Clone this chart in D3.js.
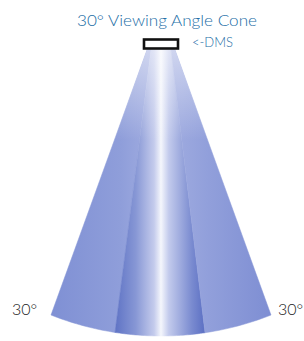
<!DOCTYPE html>
<html>
<head>
<meta charset="utf-8">
<script src="https://cdn.jsdelivr.net/npm/d3@7"></script>
<style>
  html, body { margin: 0; padding: 0; background: #fff; }
  svg { display: block; }
</style>
</head>
<body>
<svg id="chart" width="304" height="341"></svg>
<script>
  const titleText = "30° Viewing Angle Cone";
  const sensorLabel = "<-DMS";
  const sideLabels = ["30°", "30°"];
  // band edges across the cone, in degrees
  const bandEdges = [-30, -12, 0, 12, 30];
  const bandNames = ["outerLeft", "innerLeft", "innerRight", "outerRight"];

  const width = 304, height = 341;
  const svg = d3.select("#chart");
  const defs = svg.append("defs");

  const cx = 161, topY = 50;
  const arcR = 299, arcCy = 37;

  // where a band edge sits at the top and at the bottom of the cone
  const xTop = d3.scaleLinear().domain(bandEdges).range([147, 151, 161, 171, 175]);
  const xBottom = d3.scaleLinear().domain(bandEdges).range([51, 115, 161, 205, 271]);
  const yBottom = x => arcCy + Math.sqrt(arcR * arcR - (x - cx) * (x - cx));

  function bandPath(a0, a1) {
    const p = d3.path();
    const xb0 = xBottom(a0), xb1 = xBottom(a1);
    p.moveTo(xTop(a0), topY);
    p.lineTo(xTop(a1), topY);
    p.lineTo(xb1, yBottom(xb1));
    d3.range(1, 21).forEach(i => {
      const x = xb1 + (xb0 - xb1) * i / 20;
      p.lineTo(x, yBottom(x));
    });
    p.closePath();
    return p.toString();
  }

  const gradStops = {
    outerLeft: [["0%", "#7f90d4"], ["70%", "#8f9eda"], ["100%", "#a0ace0"]],
    innerLeft: [["0%", "#5f73c5"], ["45%", "#8797d5"], ["85%", "#c4cbec"], ["100%", "#f4f6fc"]],
    innerRight: [["0%", "#f4f6fc"], ["18%", "#c2caec"], ["70%", "#7a8bd0"], ["100%", "#5b6fc3"]],
    outerRight: [["0%", "#a0ace0"], ["35%", "#92a0db"], ["100%", "#7e8ed3"]]
  };

  bandNames.forEach(name => {
    const g = defs.append("linearGradient")
      .attr("id", "g-" + name)
      .attr("x1", "0%").attr("x2", "100%").attr("y1", "0%").attr("y2", "0%");
    gradStops[name].forEach(s => {
      g.append("stop").attr("offset", s[0]).attr("stop-color", s[1]);
    });
  });

  const fade = defs.append("linearGradient")
    .attr("id", "fade")
    .attr("gradientUnits", "userSpaceOnUse")
    .attr("x1", 0).attr("x2", 0).attr("y1", topY).attr("y2", 140);
  fade.append("stop").attr("offset", "0%").attr("stop-color", "#fff").attr("stop-opacity", 0.5);
  fade.append("stop").attr("offset", "100%").attr("stop-color", "#fff").attr("stop-opacity", 0);

  const bands = bandNames.map((name, i) => ({ name, a0: bandEdges[i], a1: bandEdges[i + 1] }));

  svg.append("g")
    .selectAll("path")
    .data(bands)
    .join("path")
    .attr("d", d => bandPath(d.a0, d.a1))
    .attr("fill", d => "url(#g-" + d.name + ")")
    .attr("stroke", d => "url(#g-" + d.name + ")")
    .attr("stroke-width", 0.5);

  svg.append("path")
    .attr("d", bandPath(bandEdges[0], bandEdges[bandEdges.length - 1]))
    .attr("fill", "url(#fade)");

  // sensor box
  svg.append("rect")
    .attr("x", 144).attr("y", 39.5)
    .attr("width", 34).attr("height", 9)
    .attr("fill", "#fff")
    .attr("stroke", "#111")
    .attr("stroke-width", 2.6);

  svg.append("text")
    .attr("x", 167).attr("y", 26)
    .attr("text-anchor", "middle")
    .attr("font-family", "Lato, 'DejaVu Sans', sans-serif")
    .attr("font-weight", 300)
    .attr("font-size", 16)
    .attr("textLength", 180)
    .attr("lengthAdjust", "spacingAndGlyphs")
    .attr("fill", "#236ea6")
    .text(titleText);

  svg.append("text")
    .attr("x", 192).attr("y", 47)
    .attr("font-family", "Lato, 'DejaVu Sans', sans-serif")
    .attr("font-weight", 300)
    .attr("font-size", 13)
    .attr("textLength", 41)
    .attr("lengthAdjust", "spacingAndGlyphs")
    .attr("fill", "#236ea6")
    .text(sensorLabel);

  svg.append("g")
    .selectAll("text")
    .data(sideLabels)
    .join("text")
    .attr("x", (d, i) => i === 0 ? 12 : 278)
    .attr("y", 315)
    .attr("font-family", "Lato, 'DejaVu Sans', sans-serif")
    .attr("font-weight", 300)
    .attr("font-size", 16)
    .attr("fill", "#222")
    .text(d => d);
</script>
</body>
</html>
